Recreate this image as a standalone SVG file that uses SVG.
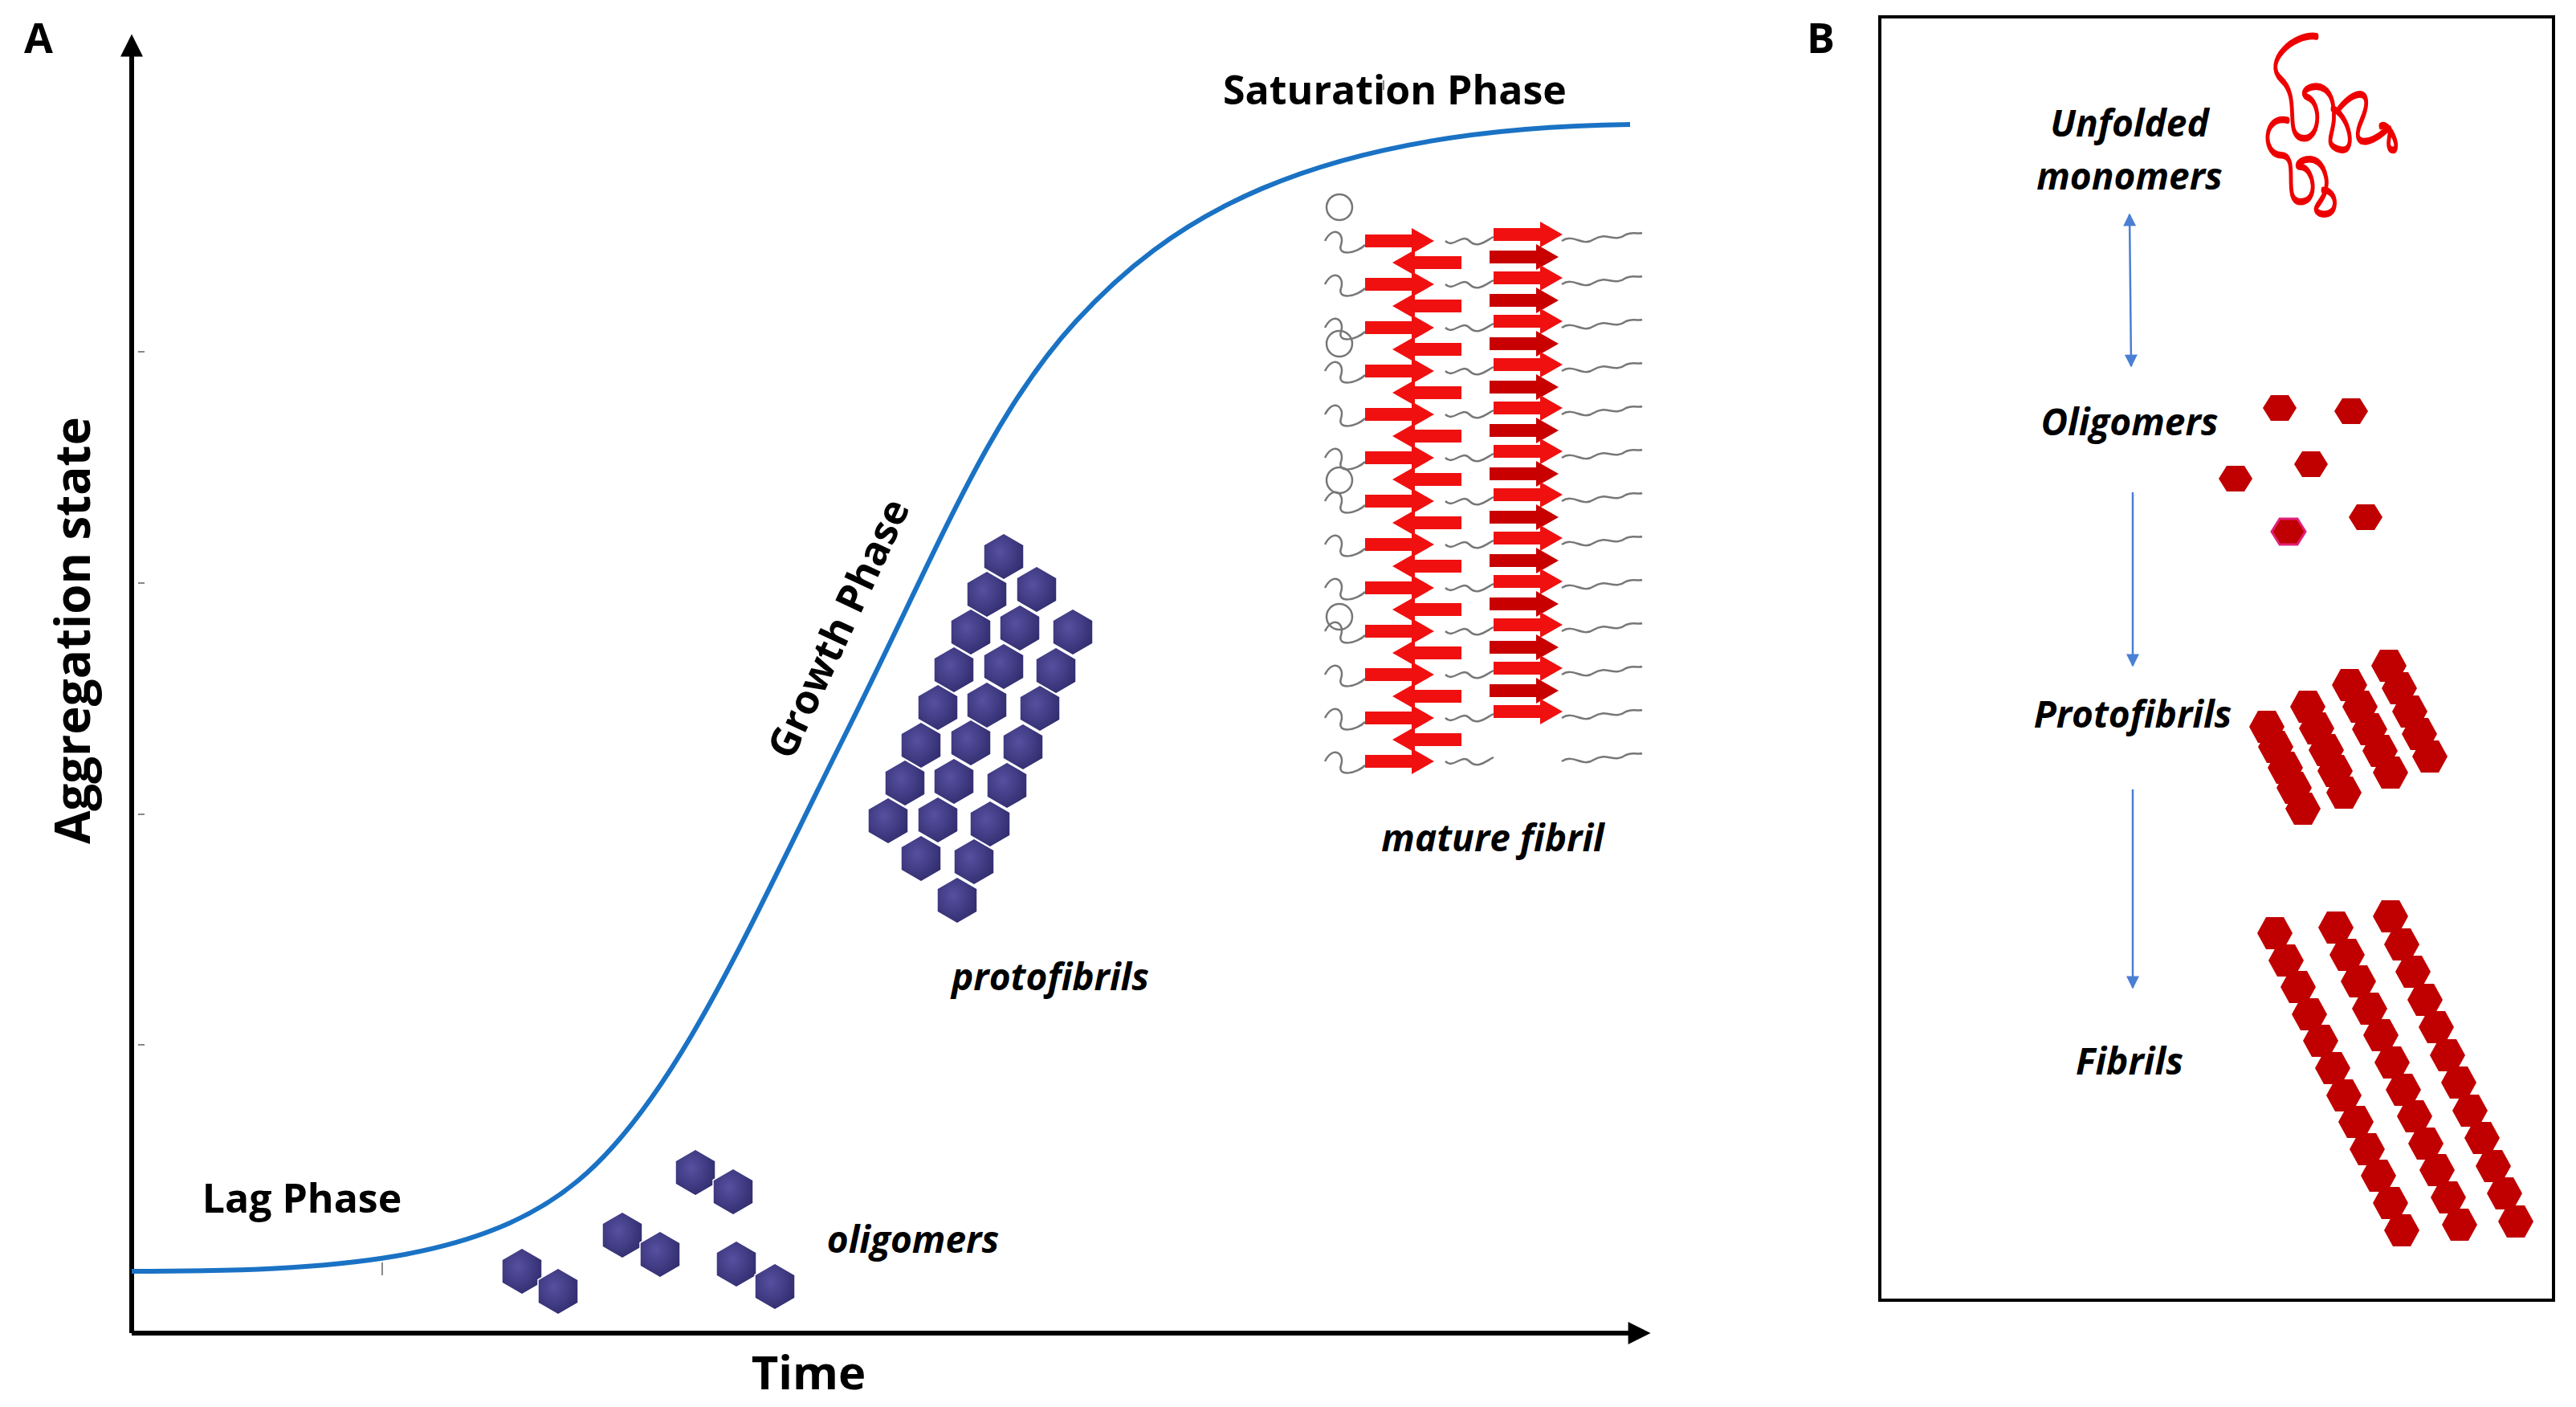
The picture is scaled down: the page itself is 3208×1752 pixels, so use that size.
<svg xmlns="http://www.w3.org/2000/svg" xmlns:xlink="http://www.w3.org/1999/xlink" width="3208" height="1752" viewBox="0 0 3208 1752">
<style>
.t{font-family:"Open Sans","Liberation Sans",sans-serif;font-weight:bold;fill:#000}
.ti{font-family:"Open Sans","Liberation Sans",sans-serif;font-weight:bold;font-style:italic;fill:#000}
.ax{stroke:#000;stroke-width:6;fill:none}
.bl{stroke:#4a7fd4;stroke-width:2.5;fill:none}
</style>
<defs>
<marker id="ah" viewBox="0 0 10 10" refX="8" refY="5" markerWidth="34" markerHeight="28" orient="auto-start-reverse" markerUnits="userSpaceOnUse"><path d="M0,0L10,5L0,10z" fill="#000"/></marker>
<marker id="ab" viewBox="0 0 10 10" refX="9" refY="5" markerWidth="20" markerHeight="16" orient="auto-start-reverse" markerUnits="userSpaceOnUse"><path d="M0,0L10,5L0,10z" fill="#4a7fd4"/></marker>
<radialGradient id="hg" cx="0.4" cy="0.4" r="0.7"><stop offset="0" stop-color="#5650a0"/><stop offset="1" stop-color="#2e2a6a"/></radialGradient>
<polygon id="bh" points="0,-29 25,-14.5 25,14.5 0,29 -25,14.5 -25,-14.5" fill="url(#hg)" stroke="#fff" stroke-width="1.5"/>
<polygon id="rh" points="-21,0 -11,-16 11,-16 21,0 11,16 -11,16" fill="#c00000"/>
<polygon id="rc" points="-22,0 -11,-20 11,-20 22,0 11,20 -11,20" fill="#c00000"/>
<polygon id="ar" points="0,-8 58,-8 58,-16 86,0 58,16 58,8 0,8" fill="#f01010"/>
<polygon id="ar2" points="0,-8 58,-8 58,-16 86,0 58,16 58,8 0,8" fill="#c80000"/>
<path id="gw" d="M1650,0 c10,-20 25,-10 20,5 c-5,15 20,10 30,0 M1800,0 c10,10 20,-10 30,0 c10,10 20,0 30,-5 M1945,0 c15,-10 25,8 40,-2 c15,-10 25,5 40,-6 c10,-4 15,0 20,-2" stroke="#777" stroke-width="2.5" fill="none"/>
</defs>

<g id="panelA-axes">
<text class="t" x="30" y="66" font-size="52">A</text>
<line class="ax" x1="164" y1="1660" x2="164" y2="48" marker-end="url(#ah)"/>
<line class="ax" x1="164" y1="1660" x2="2050" y2="1660" marker-end="url(#ah)"/>
<g stroke="#888" stroke-width="2"><line x1="172" y1="438" x2="180" y2="438"/><line x1="172" y1="726" x2="180" y2="726"/><line x1="172" y1="1014" x2="180" y2="1014"/><line x1="172" y1="1301" x2="180" y2="1301"/><line x1="476" y1="1572" x2="476" y2="1588"/><line x1="1723" y1="100" x2="1723" y2="112"/></g>
<text class="t" font-size="60" transform="translate(112,785) rotate(-90)" text-anchor="middle">Aggregation state</text>
<text class="t" x="1007" y="1730" font-size="58" text-anchor="middle">Time</text>
</g>

<g id="curve">
<path d="M164,1583 C420,1583 600,1570 720,1470 S 930,1160 1050,920 S 1230,520 1340,400 S 1620,160 2030,155" stroke="#1a72c4" stroke-width="6" fill="none"/>
<text class="t" x="1737" y="130" font-size="50" text-anchor="middle">Saturation Phase</text>
<text class="t" x="376" y="1510" font-size="50" text-anchor="middle">Lag Phase</text>
<text class="t" font-size="50" text-anchor="middle" transform="translate(1060,790) rotate(-65)">Growth Phase</text>
</g>

<g id="oligomersA">
<use href="#bh" x="650" y="1583"/><use href="#bh" x="695" y="1608"/>
<use href="#bh" x="775" y="1538"/><use href="#bh" x="822" y="1562"/>
<use href="#bh" x="866" y="1460"/><use href="#bh" x="913" y="1484"/>
<use href="#bh" x="917" y="1574"/><use href="#bh" x="965" y="1602"/>
<text class="ti" x="1137" y="1560" font-size="46" text-anchor="middle">oligomers</text>
</g>

<g id="protofibrilsA">
<use href="#bh" x="1250" y="693"/><use href="#bh" x="1229" y="740"/><use href="#bh" x="1209" y="787"/><use href="#bh" x="1188" y="834"/><use href="#bh" x="1168" y="881"/><use href="#bh" x="1147" y="928"/><use href="#bh" x="1127" y="975"/><use href="#bh" x="1106" y="1022"/>
<use href="#bh" x="1291" y="734"/><use href="#bh" x="1270" y="782"/><use href="#bh" x="1250" y="830"/><use href="#bh" x="1229" y="878"/><use href="#bh" x="1209" y="925"/><use href="#bh" x="1188" y="973"/><use href="#bh" x="1168" y="1021"/><use href="#bh" x="1147" y="1069"/>
<use href="#bh" x="1336" y="787"/><use href="#bh" x="1315" y="835"/><use href="#bh" x="1295" y="882"/><use href="#bh" x="1274" y="930"/><use href="#bh" x="1254" y="978"/><use href="#bh" x="1233" y="1026"/><use href="#bh" x="1213" y="1073"/><use href="#bh" x="1192" y="1121"/>
<text class="ti" x="1308" y="1233" font-size="46" text-anchor="middle">protofibrils</text>
</g>

<g id="matureFibril">
<circle cx="1668" cy="258" r="16" fill="none" stroke="#777" stroke-width="2.5"/>
<circle cx="1668" cy="428" r="16" fill="none" stroke="#777" stroke-width="2.5"/>
<circle cx="1668" cy="598" r="16" fill="none" stroke="#777" stroke-width="2.5"/>
<circle cx="1668" cy="768" r="16" fill="none" stroke="#777" stroke-width="2.5"/>
<use href="#gw" y="300"/><use href="#gw" y="354"/><use href="#gw" y="408"/><use href="#gw" y="462"/><use href="#gw" y="516"/><use href="#gw" y="570"/><use href="#gw" y="624"/><use href="#gw" y="678"/><use href="#gw" y="732"/><use href="#gw" y="786"/><use href="#gw" y="840"/><use href="#gw" y="894"/><use href="#gw" y="948"/>
<g>
<use href="#ar" x="1700" y="300"/><use href="#ar" transform="translate(1820,327) scale(-1,1)"/>
<use href="#ar" x="1700" y="354"/><use href="#ar" transform="translate(1820,381) scale(-1,1)"/>
<use href="#ar" x="1700" y="408"/><use href="#ar" transform="translate(1820,435) scale(-1,1)"/>
<use href="#ar" x="1700" y="462"/><use href="#ar" transform="translate(1820,489) scale(-1,1)"/>
<use href="#ar" x="1700" y="516"/><use href="#ar" transform="translate(1820,543) scale(-1,1)"/>
<use href="#ar" x="1700" y="570"/><use href="#ar" transform="translate(1820,597) scale(-1,1)"/>
<use href="#ar" x="1700" y="624"/><use href="#ar" transform="translate(1820,651) scale(-1,1)"/>
<use href="#ar" x="1700" y="678"/><use href="#ar" transform="translate(1820,705) scale(-1,1)"/>
<use href="#ar" x="1700" y="732"/><use href="#ar" transform="translate(1820,759) scale(-1,1)"/>
<use href="#ar" x="1700" y="786"/><use href="#ar" transform="translate(1820,813) scale(-1,1)"/>
<use href="#ar" x="1700" y="840"/><use href="#ar" transform="translate(1820,867) scale(-1,1)"/>
<use href="#ar" x="1700" y="894"/><use href="#ar" transform="translate(1820,921) scale(-1,1)"/>
<use href="#ar" x="1700" y="948"/>
</g>
<g>
<use href="#ar" x="1860" y="292"/><use href="#ar2" x="1855" y="320"/>
<use href="#ar" x="1860" y="346"/><use href="#ar2" x="1855" y="374"/>
<use href="#ar" x="1860" y="400"/><use href="#ar2" x="1855" y="428"/>
<use href="#ar" x="1860" y="454"/><use href="#ar2" x="1855" y="482"/>
<use href="#ar" x="1860" y="508"/><use href="#ar2" x="1855" y="536"/>
<use href="#ar" x="1860" y="562"/><use href="#ar2" x="1855" y="590"/>
<use href="#ar" x="1860" y="616"/><use href="#ar2" x="1855" y="644"/>
<use href="#ar" x="1860" y="670"/><use href="#ar2" x="1855" y="698"/>
<use href="#ar" x="1860" y="724"/><use href="#ar2" x="1855" y="752"/>
<use href="#ar" x="1860" y="778"/><use href="#ar2" x="1855" y="806"/>
<use href="#ar" x="1860" y="832"/><use href="#ar2" x="1855" y="860"/>
<use href="#ar" x="1860" y="886"/>
</g>
<text class="ti" x="1859" y="1060" font-size="46" text-anchor="middle">mature fibril</text>
</g>

<g id="panelB">
<text class="t" x="2250" y="66" font-size="52">B</text>
<rect x="2341" y="21" width="839" height="1598" fill="none" stroke="#000" stroke-width="4"/>
</g>

<g id="unfolded">
<text class="ti" x="2652" y="170" font-size="46" text-anchor="middle">Unfolded</text>
<text class="ti" x="2652" y="236" font-size="46" text-anchor="middle">monomers</text>
<g transform="translate(2817,41) scale(0.8,1.45) translate(-2800,-25)" stroke="#ee0000" fill="none" stroke-linecap="round">
<path d="M2885,28 C2850,25 2800,50 2830,65 C2860,80 2835,110 2860,115 C2890,120 2895,85 2870,80 C2850,75 2900,60 2910,85 C2920,110 2890,120 2920,125 C2950,130 2935,95 2910,90 M2920,90 C2950,70 2975,75 2955,100 C2935,125 2970,120 2990,110 C3010,100 2990,120 3000,125 C3020,130 3000,100 2985,105" stroke-width="6"/>
<path d="M2840,100 C2800,95 2800,130 2830,130 C2860,130 2830,170 2860,170 C2890,170 2880,140 2860,140 C2840,140 2890,120 2900,150 C2905,170 2870,175 2890,180 C2920,185 2920,160 2895,160" stroke-width="6"/>
</g>
</g>

<g id="oligomersB">
<text class="ti" x="2652" y="542" font-size="46" text-anchor="middle">Oligomers</text>
<use href="#rh" x="2839" y="508"/><use href="#rh" x="2928" y="512"/><use href="#rh" x="2784" y="596"/><use href="#rh" x="2878" y="578"/><use href="#rh" x="2946" y="644"/>
<use href="#rh" x="2850" y="662" stroke="#e0207a" stroke-width="3"/>
</g>

<g id="protofibrilsB">
<text class="ti" x="2656" y="906" font-size="46" text-anchor="middle">Protofibrils</text>
<use href="#rc" x="2823" y="905"/><use href="#rc" x="2834" y="930"/><use href="#rc" x="2846" y="956"/><use href="#rc" x="2857" y="981"/><use href="#rc" x="2868" y="1007"/>
<use href="#rc" x="2874" y="880"/><use href="#rc" x="2885" y="907"/><use href="#rc" x="2897" y="934"/><use href="#rc" x="2908" y="960"/><use href="#rc" x="2919" y="987"/>
<use href="#rc" x="2926" y="853"/><use href="#rc" x="2939" y="880"/><use href="#rc" x="2951" y="908"/><use href="#rc" x="2964" y="935"/><use href="#rc" x="2977" y="962"/>
<use href="#rc" x="2975" y="829"/><use href="#rc" x="2988" y="857"/><use href="#rc" x="3001" y="886"/><use href="#rc" x="3013" y="914"/><use href="#rc" x="3026" y="942"/>
</g>

<g id="fibrilsB">
<text class="ti" x="2652" y="1338" font-size="46" text-anchor="middle">Fibrils</text>
<use href="#rc" x="2833" y="1162"/><use href="#rc" x="2847" y="1196"/><use href="#rc" x="2862" y="1229"/><use href="#rc" x="2876" y="1263"/><use href="#rc" x="2890" y="1296"/><use href="#rc" x="2905" y="1330"/><use href="#rc" x="2919" y="1364"/><use href="#rc" x="2934" y="1397"/><use href="#rc" x="2948" y="1431"/><use href="#rc" x="2962" y="1464"/><use href="#rc" x="2977" y="1498"/><use href="#rc" x="2991" y="1532"/>
<use href="#rc" x="2909" y="1155"/><use href="#rc" x="2923" y="1189"/><use href="#rc" x="2937" y="1222"/><use href="#rc" x="2951" y="1256"/><use href="#rc" x="2965" y="1289"/><use href="#rc" x="2979" y="1323"/><use href="#rc" x="2993" y="1357"/><use href="#rc" x="3007" y="1390"/><use href="#rc" x="3021" y="1424"/><use href="#rc" x="3035" y="1457"/><use href="#rc" x="3049" y="1491"/><use href="#rc" x="3063" y="1525"/>
<use href="#rc" x="2977" y="1141"/><use href="#rc" x="2991" y="1176"/><use href="#rc" x="3005" y="1210"/><use href="#rc" x="3020" y="1245"/><use href="#rc" x="3034" y="1279"/><use href="#rc" x="3048" y="1314"/><use href="#rc" x="3062" y="1348"/><use href="#rc" x="3076" y="1383"/><use href="#rc" x="3091" y="1417"/><use href="#rc" x="3105" y="1452"/><use href="#rc" x="3119" y="1486"/><use href="#rc" x="3133" y="1521"/>
</g>

<g id="connectors">
<line class="bl" x1="2652" y1="267" x2="2654" y2="456" marker-start="url(#ab)" marker-end="url(#ab)"/>
<line class="bl" x1="2656" y1="613" x2="2656" y2="829" marker-end="url(#ab)"/>
<line class="bl" x1="2656" y1="983" x2="2656" y2="1230" marker-end="url(#ab)"/>
</g>
</svg>
